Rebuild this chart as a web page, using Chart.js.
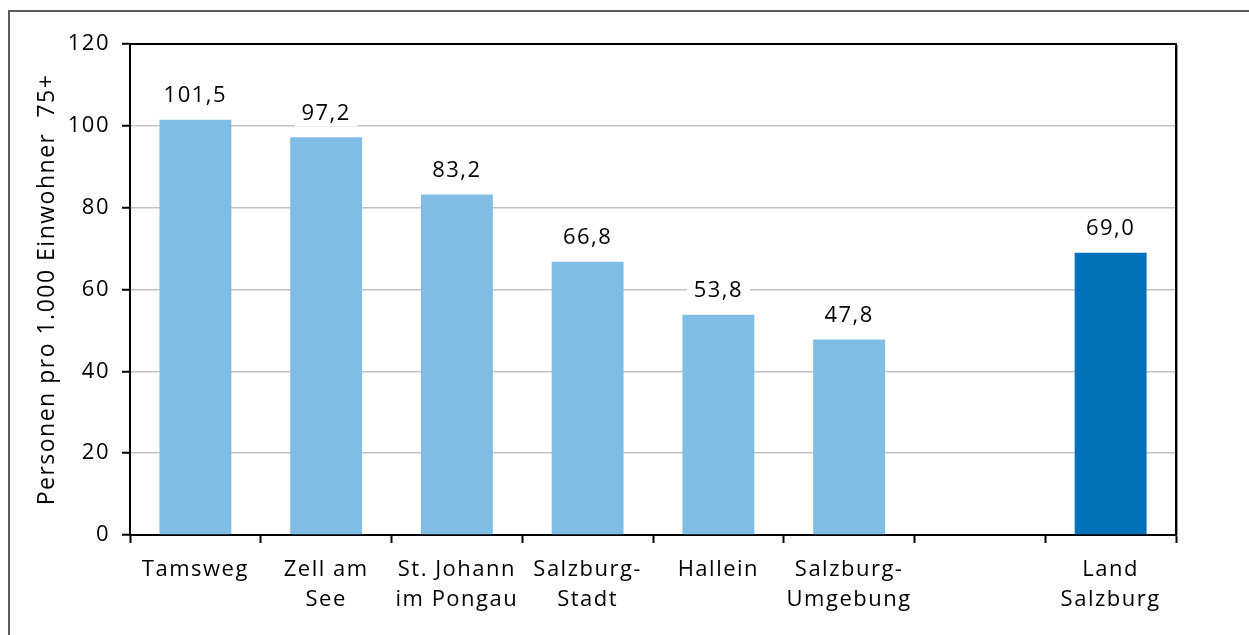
<!DOCTYPE html>
<html lang="de">
<head>
<meta charset="utf-8">
<title>Personen pro 1.000 Einwohner 75+</title>
<script src="https://cdn.jsdelivr.net/npm/chart.js@4.4.1/dist/chart.umd.min.js"></script>
<style>
  html, body { margin: 0; padding: 0; background: #fff; }
  #wrap { position: relative; width: 1249px; height: 635px; overflow: hidden; }
  #frame { position: absolute; left: 8px; top: 10px; width: 1300px; height: 700px;
           border-left: 2px solid #5c5c5c; border-top: 2px solid #5c5c5c; pointer-events: none; }
  canvas { position: absolute; left: 0; top: 0; }
</style>
</head>
<body>
<div id="wrap">
  <canvas id="chart" width="1249" height="635"></canvas>
  <div id="frame"></div>
</div>
<script>
// Bezirke (eine Lücke vor dem Landeswert)
const categories = [
  ['Tamsweg'],
  ['Zell am', 'See'],
  ['St. Johann', 'im Pongau'],
  ['Salzburg-', 'Stadt'],
  ['Hallein'],
  ['Salzburg-', 'Umgebung'],
  [''],
  ['Land', 'Salzburg']
];
const values = [101.5, 97.2, 83.2, 66.8, 53.8, 47.8, null, 69.0];
const barColors = ['#80bde4', '#80bde4', '#80bde4', '#80bde4', '#80bde4', '#80bde4', '#80bde4', '#0070b8'];
const yTicks = [0, 20, 40, 60, 80, 100, 120];
const yTitle = 'Personen pro 1.000 Einwohner  75+';

const FONT = { family: '"Open Sans", sans-serif', size: 22 };
const LETTER_SPACING = '1.5px';

const formatValue = v => v.toFixed(1).replace('.', ',');

// Etwas Laufweite für alle Texte im Canvas
const spacing = {
  id: 'spacing',
  beforeUpdate(chart) { chart.ctx.letterSpacing = LETTER_SPACING; },
  beforeLayout(chart) { chart.ctx.letterSpacing = LETTER_SPACING; },
  beforeDraw(chart) { chart.ctx.letterSpacing = LETTER_SPACING; }
};

// Rahmen um die Zeichenfläche (oben und rechts)
const plotFrame = {
  id: 'plotFrame',
  afterDatasetsDraw(chart) {
    const { ctx, chartArea: a } = chart;
    ctx.save();
    ctx.strokeStyle = '#000';
    ctx.lineWidth = 2;
    ctx.beginPath();
    ctx.moveTo(a.left, a.top);
    ctx.lineTo(a.right, a.top);
    ctx.lineTo(a.right, a.bottom);
    ctx.stroke();
    ctx.strokeStyle = '#9a9a9a';
    ctx.lineWidth = 1;
    ctx.beginPath();
    ctx.moveTo(a.right + 1.5, a.top + 1);
    ctx.lineTo(a.right + 1.5, a.bottom);
    ctx.stroke();
    ctx.restore();
  }
};

// Wertebeschriftung über den Säulen mit weißem Hintergrund
const valueLabels = {
  id: 'valueLabels',
  afterDatasetsDraw(chart) {
    const { ctx } = chart;
    const meta = chart.getDatasetMeta(0);
    ctx.save();
    ctx.font = `${FONT.size}px ${FONT.family}`;
    ctx.textAlign = 'center';
    ctx.textBaseline = 'middle';
    meta.data.forEach((bar, i) => {
      const v = values[i];
      if (v === null || v === undefined) return;
      const text = formatValue(v);
      const w = ctx.measureText(text).width;
      const cy = bar.y - 24;
      ctx.fillStyle = '#fff';
      ctx.fillRect(bar.x - w / 2 - 7, cy - 13, w + 14, 26);
      ctx.fillStyle = '#000';
      ctx.fillText(text, bar.x, cy);
    });
    ctx.restore();
  }
};

new Chart(document.getElementById('chart'), {
  type: 'bar',
  data: {
    labels: categories,
    datasets: [{
      data: values,
      backgroundColor: barColors,
      borderWidth: 0,
      barPercentage: 0.55,
      categoryPercentage: 1.0
    }]
  },
  options: {
    responsive: false,
    devicePixelRatio: 1,
    animation: false,
    layout: { padding: { left: 0, top: 44, right: 73, bottom: 0 } },
    plugins: { legend: { display: false }, tooltip: { enabled: false } },
    scales: {
      x: {
        afterFit(scale) { scale.height = 100; },
        grid: {
          offset: true,
          drawOnChartArea: false,
          drawTicks: true,
          tickLength: 8,
          tickColor: '#000',
          tickWidth: 2,
          color: '#000'
        },
        border: { display: true, color: '#000', width: 2 },
        ticks: {
          font: { ...FONT, lineHeight: 1.36 },
          color: '#000',
          padding: 12,
          maxRotation: 0,
          autoSkip: false
        }
      },
      y: {
        min: 0,
        max: 120,
        afterFit(scale) { scale.width = 130; },
        afterBuildTicks(scale) { scale.ticks = yTicks.map(v => ({ value: v })); },
        grid: {
          color: c => (c.tick && (c.tick.value === 0 || c.tick.value === 120)) ? 'rgba(0,0,0,0)' : '#c3c3c3',
          lineWidth: 1.5,
          drawTicks: true,
          tickLength: 8,
          tickColor: '#000',
          tickWidth: 2
        },
        border: { display: true, color: '#000', width: 2 },
        ticks: {
          font: FONT,
          color: '#000',
          padding: 12,
          callback: v => String(v)
        },
        title: {
          display: true,
          text: yTitle,
          font: { ...FONT, size: 23 },
          color: '#000',
          padding: { top: 34, bottom: 0 }
        }
      }
    }
  },
  plugins: [spacing, plotFrame, valueLabels]
});
</script>
</body>
</html>
